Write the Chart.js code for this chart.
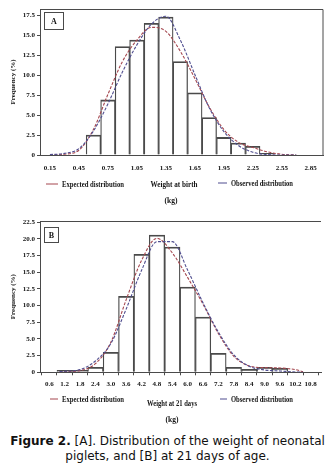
<!DOCTYPE html>
<html>
<head>
<meta charset="utf-8">
<script src="https://cdn.jsdelivr.net/npm/chart.js@4.4.0/dist/chart.umd.min.js"></script>
<style>
  html, body { margin: 0; padding: 0; background: #fff; }
  body { width: 335px; height: 472px; overflow: hidden; position: relative; }
  canvas { position: absolute; left: 0; }
  #chartA { top: 0; }
  #chartB { top: 210px; }
  #caption {
    position: absolute; left: 0; top: 434px; width: 335px;
    text-align: center; font: 12px "DejaVu Sans", Verdana, sans-serif;
    line-height: 15px; color: #111;
  }
</style>
</head>
<body>
<canvas id="chartA" width="335" height="210"></canvas>
<canvas id="chartB" width="335" height="222"></canvas>
<div id="caption"><b>Figure 2.</b> [A]. Distribution of the weight of neonatal<br>piglets, and [B] at 21 days of age.</div>
<script>
// Panel A: weight at birth (kg), classes of 0.15 kg
const binsA = [0.6, 0.75, 0.9, 1.05, 1.2, 1.35, 1.5, 1.65, 1.8, 1.95, 2.1, 2.25, 2.4];
const freqA = [2.5, 6.9, 13.6, 14.4, 16.5, 17.3, 11.7, 7.8, 4.7, 2.2, 1.5, 1.1, 0.2];
const curveXA = [0.15, 0.3, 0.45, 0.6, 0.75, 0.9, 1.05, 1.2, 1.35, 1.5, 1.65, 1.8, 1.95, 2.1, 2.25, 2.4, 2.55, 2.7];
const expectedA = [0.0, 0.1, 0.6, 3.2, 7.6, 11.7, 14.4, 16.0, 15.5, 13.0, 9.6, 6.0, 3.2, 1.6, 0.95, 0.4, 0.1, 0.0];
const observedA = [0.05, 0.2, 0.8, 3.0, 6.4, 10.4, 13.8, 16.4, 17.4, 14.4, 10.1, 5.9, 2.95, 1.2, 0.35, 0.05, 0.0, 0.0];
const xTicksA = [0.15, 0.45, 0.75, 1.05, 1.35, 1.65, 1.95, 2.25, 2.55, 2.85];
const yTicksA = [0, 2.5, 5, 7.5, 10, 12.5, 15, 17.5];

// Panel B: weight at 21 days (kg), classes of 0.6 kg
const binsB = [1.2, 1.8, 2.4, 3.0, 3.6, 4.2, 4.8, 5.4, 6.0, 6.6, 7.2, 7.8, 8.4, 9.0, 9.6];
const freqB = [0.3, 0.3, 0.75, 3.0, 11.4, 17.7, 20.6, 18.8, 12.8, 8.3, 2.85, 0.75, 0.45, 0.75, 0.6];
const curveXB = [1.0, 1.2, 1.8, 2.4, 3.0, 3.6, 4.2, 4.8, 5.4, 6.0, 6.6, 7.2, 7.8, 8.4, 9.0, 9.6, 10.2, 10.5];
const expectedB = [0.05, 0.1, 0.25, 1.3, 4.5, 10.9, 16.8, 20.1, 17.9, 14.2, 10.2, 5.8, 2.4, 0.95, 0.7, 0.65, 0.4, 0.1];
const observedB = [0.1, 0.15, 0.4, 1.7, 4.3, 9.5, 15.3, 19.6, 19.6, 15.3, 10.4, 6.0, 2.6, 0.9, 0.35, 0.2, 0.05, 0.0];
const xTicksB = [0.6, 1.2, 1.8, 2.4, 3.0, 3.6, 4.2, 4.8, 5.4, 6.0, 6.6, 7.2, 7.8, 8.4, 9.0, 9.6, 10.2, 10.8];
const yTicksB = [0, 2.5, 5, 7.5, 10, 12.5, 15, 17.5, 20, 22.5];

const serif = '"Liberation Serif", "Times New Roman", serif';
const redCol = '#a5474f';
const blueCol = '#4f4d8f';
const lineCol = '#4a4a4a';
const txtCol = '#141414';

function pts(xs, ys) {
  return xs.map((x, i) => ({ x: x, y: ys[i] }));
}

// extra bits drawn on the canvas: frame, panel letter, legend, axis title
function extrasPlugin(o) {
  return {
    id: 'extras' + o.letter,
    afterDraw(chart) {
      const ctx = chart.ctx, a = chart.chartArea;
      ctx.save();
      ctx.strokeStyle = lineCol;
      ctx.lineWidth = 1;
      ctx.beginPath();
      ctx.moveTo(a.left, a.top + 0.5);
      ctx.lineTo(a.right, a.top + 0.5);
      if (o.fullFrame) ctx.lineTo(a.right, a.bottom);
      ctx.stroke();

      ctx.strokeRect(o.box[0] + 0.5, o.box[1] + 0.5, o.box[2], o.box[3]);
      ctx.fillStyle = txtCol;
      ctx.font = 'bold 8px ' + serif;
      ctx.textAlign = 'center';
      ctx.textBaseline = 'middle';
      ctx.fillText(o.letter, o.box[0] + o.box[2] / 2 + 0.5, o.box[1] + o.box[3] / 2 + 1);

      ctx.font = 'bold 7.5px ' + serif;
      const ds = chart.data.datasets;
      const entries = [[ds[1], o.leg1], [ds[2], o.leg2]];
      entries.forEach(([d, p]) => {
        ctx.strokeStyle = d.borderColor;
        ctx.beginPath();
        ctx.moveTo(p[0], p[2]);
        ctx.lineTo(p[1], p[2]);
        ctx.stroke();
        ctx.textAlign = 'left';
        ctx.fillText(d.label, p[1] + 4, p[2] + 1, 62);
      });
      ctx.textAlign = 'center';
      ctx.fillText(o.title, o.titlePos[0], o.titlePos[1], o.titlePos[2]);
      ctx.fillText('(kg)', o.unitPos[0], o.unitPos[1]);
      ctx.restore();
    }
  };
}

function makeChart(id, cfg) {
  const tickFont = { family: serif, size: 7, weight: 'bold' };
  return new Chart(document.getElementById(id), {
    type: 'bar',
    data: {
      datasets: [
        {
          type: 'bar',
          label: 'Frequency',
          data: pts(cfg.bins, cfg.freq),
          backgroundColor: 'rgba(255,255,255,0)',
          borderColor: lineCol,
          borderWidth: { top: 1.1, left: 0.6, right: 0.6, bottom: 0 },
          barThickness: 'flex',
          barPercentage: 1,
          categoryPercentage: 1,
          order: 2
        },
        {
          type: 'line',
          label: 'Expected distribution',
          data: pts(cfg.curveX, cfg.expected),
          borderColor: redCol,
          borderWidth: 1.1,
          borderDash: [3, 1.5],
          pointRadius: 0,
          cubicInterpolationMode: 'monotone',
          fill: false,
          order: 1
        },
        {
          type: 'line',
          label: 'Observed distribution',
          data: pts(cfg.curveX, cfg.observed),
          borderColor: blueCol,
          borderWidth: 1.1,
          borderDash: [3, 1.5],
          pointRadius: 0,
          cubicInterpolationMode: 'monotone',
          fill: false,
          order: 0
        }
      ]
    },
    options: {
      responsive: false,
      animation: false,
      devicePixelRatio: 1,
      layout: { padding: cfg.padding },
      plugins: { legend: { display: false }, tooltip: { enabled: false } },
      scales: {
        x: {
          type: 'linear',
          min: cfg.xMin,
          max: cfg.xMax,
          offset: false,
          afterBuildTicks: s => { s.ticks = cfg.xTicks.map(v => ({ value: v })); },
          afterFit: s => { s.height = cfg.xHeight; },
          ticks: {
            autoSkip: false, maxRotation: 0, padding: cfg.xPad,
            font: tickFont, color: txtCol,
            callback: v => v.toFixed(cfg.xDec)
          },
          grid: { display: cfg.xTickMarks, drawOnChartArea: false, drawTicks: true, tickLength: 3, color: lineCol },
          border: { display: true, color: lineCol, width: 1 }
        },
        y: {
          min: 0,
          max: cfg.yMax,
          afterBuildTicks: s => { s.ticks = cfg.yTicks.map(v => ({ value: v })); },
          afterFit: s => { s.width = 40; },
          ticks: {
            padding: 2, font: tickFont, color: txtCol,
            callback: v => v === 0 ? '0' : v.toFixed(1)
          },
          grid: { display: true, drawOnChartArea: false, drawTicks: true, tickLength: 3, color: lineCol },
          border: { display: true, color: lineCol, width: 1 },
          title: {
            display: true, text: 'Frequency (%)', color: txtCol,
            font: { family: serif, size: 7, weight: 'bold' },
            padding: { top: 9, bottom: 0 }
          }
        }
      }
    },
    plugins: [extrasPlugin(cfg.extras)]
  });
}

makeChart('chartA', {
  bins: binsA, freq: freqA, curveX: curveXA, expected: expectedA, observed: observedA,
  xTicks: xTicksA, yTicks: yTicksA, xMin: 0.047, xMax: 2.977, yMax: 18.3, xDec: 2,
  padding: { top: 9, right: 12, left: 0, bottom: 0 }, xHeight: 55, xPad: 6, xTickMarks: false,
  extras: {
    letter: 'A', fullFrame: true, box: [44, 12, 19, 17],
    leg1: [46, 58, 184], leg2: [218, 227, 183],
    title: 'Weight at birth', titlePos: [174, 185, 47], unitPos: [171, 201]
  }
});

makeChart('chartB', {
  bins: binsB, freq: freqB, curveX: curveXB, expected: expectedB, observed: observedB,
  xTicks: xTicksB, yTicks: yTicksB, xMin: 0.237, xMax: 11.2, yMax: 22.7, xDec: 1,
  padding: { top: 11, right: 14, left: 0, bottom: 0 }, xHeight: 59.7, xPad: 5, xTickMarks: true,
  extras: {
    letter: 'B', fullFrame: false, box: [44, 17, 14, 15],
    leg1: [50, 58, 189], leg2: [220, 227, 189],
    title: 'Weight at 21 days', titlePos: [172, 194, 50], unitPos: [172, 210]
  }
});
</script>
</body>
</html>
